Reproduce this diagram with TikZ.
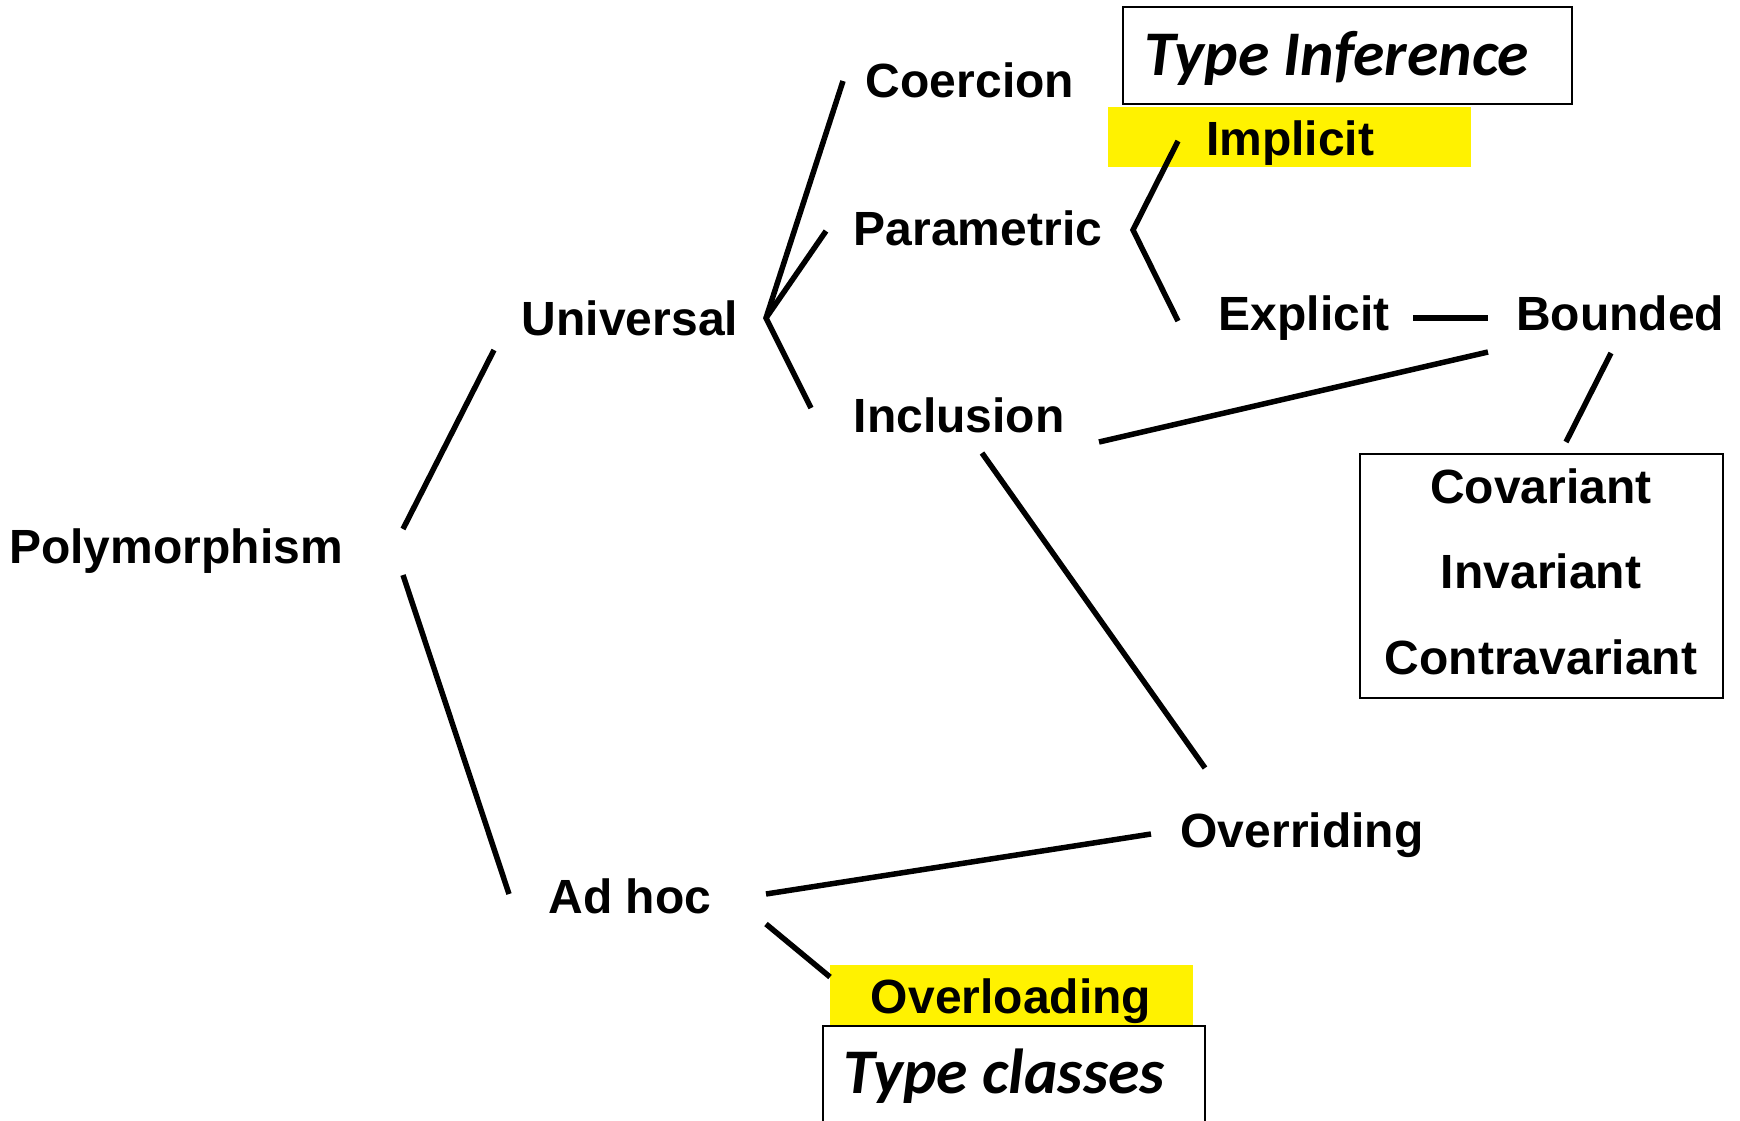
\documentclass[tikz,border=0pt]{standalone}
\usepackage{fontspec}
\setmainfont{Liberation Sans}
\newfontfamily\calib{Carlito}
\begin{document}
\begin{tikzpicture}[x=1pt,y=-1pt,
  term/.style={inner sep=0pt,anchor=base,font=\fontsize{48}{58}\selectfont\bfseries},
  boxterm/.style={inner sep=0pt,anchor=base,font=\fontsize{48}{58}\selectfont\bfseries},
  note/.style={inner sep=0pt,anchor=base,font=\calib\fontsize{63.6}{76}\selectfont\bfseries\itshape},
  link/.style={line width=5.5pt},
  frame/.style={draw=black,line width=2.3pt},
  hilite/.style={fill=yellow}]
\useasboundingbox (0,0) rectangle (1740,1120);

% highlights and boxes
\fill[hilite] (1108,107) rectangle (1471,167);
\fill[hilite] (830,965) rectangle (1193,1025);
\draw[frame] (1123,7) rectangle (1572,104);
\draw[frame] (823,1026) rectangle (1205,1130);
\draw[frame] (1360,454) rectangle (1723,698);

% terms
\node[term] (poly) at (176,563) {Polymorphism};
\node[term] (univ) at (630,335) {Universal};
\node[term] (adhoc) at (630,913) {Ad hoc};
\node[term] (coer) at (970,97) {Coercion};
\node[term] (param) at (978,245) {Parametric};
\node[term] (incl) at (959,432) {Inclusion};
\node[term] (impl) at (1290,155) {Implicit};
\node[term] (expl) at (1304,330) {Explicit};
\node[term] (bound) at (1620,330) {Bounded};
\node[term] (over) at (1302,847) {Overriding};
\node[term] (ovl) at (1011,1013) {Overloading};
\node[boxterm] (cov) at (1541,503) {Covariant};
\node[boxterm] (inv) at (1541,588) {Invariant};
\node[boxterm] (contra) at (1541,674) {Contravariant};
\node[note] (tinf) at (1337,75) {Type Inference};
\node[note] (tcls) at (1004,1093) {Type classes};

% connector end points
\coordinate (pu) at (403,529);  \coordinate (up) at (494,350);
\coordinate (pa) at (403,575);  \coordinate (ap) at (509,894);
\coordinate (uf) at (766,318);
\coordinate (uc) at (843,81);   \coordinate (upm) at (826,231); \coordinate (ui) at (811,408);
\coordinate (pf) at (1133,230);
\coordinate (pi) at (1178,141); \coordinate (pe) at (1178,321);
\coordinate (eb1) at (1413,318); \coordinate (eb2) at (1488,318);
\coordinate (ib1) at (1099,442); \coordinate (ib2) at (1488,352);
\coordinate (bc1) at (1611,353); \coordinate (bc2) at (1566,442);
\coordinate (io1) at (982,453);  \coordinate (io2) at (1205,768);
\coordinate (ao1) at (766,894);  \coordinate (ao2) at (1151,834);
\coordinate (al1) at (766,924);  \coordinate (al2) at (830,977);

% connectors
\draw[link] (pu) -- (up);
\draw[link] (pa) -- (ap);
\draw[link] (uc) -- (uf) -- (ui);
\draw[link] (uf) -- (upm);
\draw[link] (pi) -- (pf) -- (pe);
\draw[link] (eb1) -- (eb2);
\draw[link] (ib1) -- (ib2);
\draw[link] (bc1) -- (bc2);
\draw[link] (io1) -- (io2);
\draw[link] (ao1) -- (ao2);
\draw[link] (al1) -- (al2);
\end{tikzpicture}
\end{document}
